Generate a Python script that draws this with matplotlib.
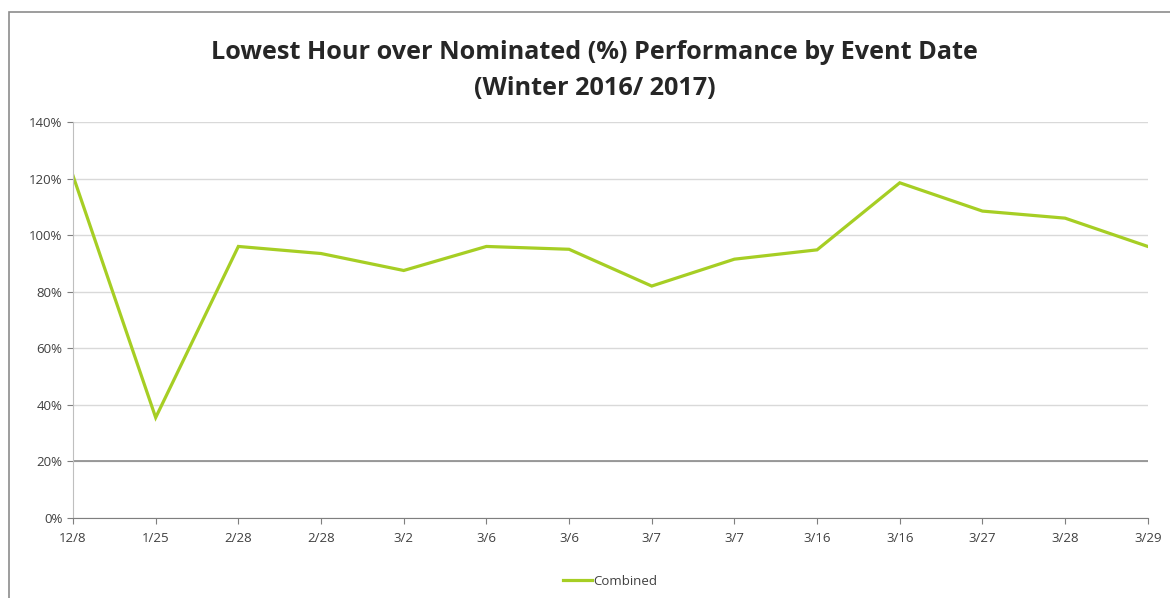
import matplotlib.pyplot as plt
from matplotlib.patches import Rectangle
from matplotlib.ticker import FuncFormatter

# event dates and lowest hour over nominated (%)
dates = ['12/8', '1/25', '2/28', '2/28', '3/2', '3/6', '3/6', '3/7', '3/7',
         '3/16', '3/16', '3/27', '3/28', '3/29']
combined = [121, 35.5, 96, 93.5, 87.5, 96, 95, 82, 91.5, 94.8, 118.5, 108.5, 106, 96]

plt.rcParams['font.family'] = ['Open Sans', 'DejaVu Sans']

fig = plt.figure(figsize=(11.7, 5.98), dpi=100)
ax = fig.add_axes([0.0624, 0.1338, 0.9186, 0.6622])

x = list(range(len(dates)))
ax.plot(x, combined, color='#A6CE24', linewidth=2.3, label='Combined', solid_joinstyle='miter')

ax.set_xlim(0, len(dates) - 1)
ax.set_ylim(0, 140)
ax.set_yticks(range(0, 141, 20))
ax.yaxis.set_major_formatter(FuncFormatter(lambda v, p: f'{v:.0f}%'))
ax.set_xticks(x)
ax.set_xticklabels(dates)

ax.grid(axis='y', color='#D9D9D9', linewidth=1)
ax.set_axisbelow(True)
# the 20% line shows darker in the original
ax.axhline(20, color='#8C8C8C', linewidth=1.2, zorder=1)
for s in ['top', 'right']:
    ax.spines[s].set_visible(False)
ax.spines['left'].set_color('#BFBFBF')
ax.spines['bottom'].set_color('#7F7F7F')
ax.tick_params(axis='both', colors='#7F7F7F', labelcolor='#404040', labelsize=9.5, length=4)
ax.tick_params(axis='x', pad=6)

fig.text(0.508, 0.913, 'Lowest Hour over Nominated (%) Performance by Event Date',
         ha='center', va='center', fontsize=18.2, fontweight='bold', color='#262626')
fig.text(0.508, 0.852, '(Winter 2016/ 2017)',
         ha='center', va='center', fontsize=18.2, fontweight='bold', color='#262626')

ax.legend(loc='center', bbox_to_anchor=(0.5, -0.16), frameon=False, fontsize=9.5,
          handlelength=2.2, handletextpad=0.1, labelcolor='#404040')

fig.patches.append(Rectangle((0.008, -0.01), 1.0, 0.99, transform=fig.transFigure,
                             fill=False, edgecolor='#8C8C8C', linewidth=1.2))

fig.savefig('out.png', dpi=100)
